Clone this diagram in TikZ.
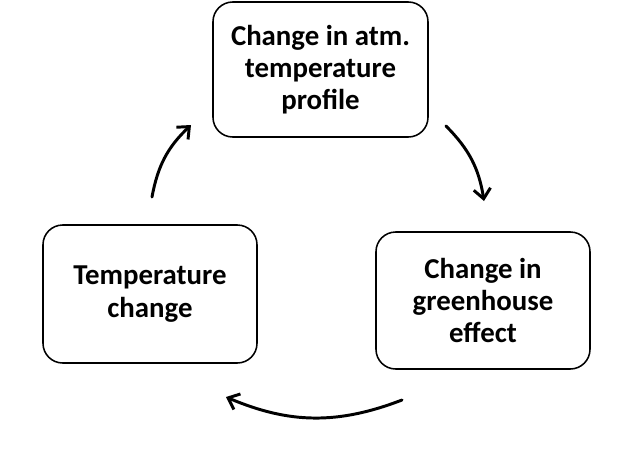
\documentclass[tikz,border=0pt]{standalone}
\usepackage{fontspec}
\setmainfont{Carlito}
\usetikzlibrary{arrows.meta,positioning}

\begin{document}
\begin{tikzpicture}[
  x=0.025cm,y=-0.025cm,
  line cap=round,line join=round,
  stage/.style={draw,rounded corners=14pt,line width=1.1pt,align=center,
    font=\bfseries\fontsize{20.5}{23}\selectfont,inner sep=0pt},
  cycle/.style={line width=2.1pt,-{Straight Barb[length=7pt,width=12pt,line width=2.1pt]}},
  >=Latex
]
  \useasboundingbox (0,0) rectangle (639,463);

  % Boxes
  \node[stage,minimum width=215*0.025cm,minimum height=135*0.025cm] (atm) at (320.5,69.5)
    {Change in atm.\\temperature\\profile};
  \node[stage,minimum width=214*0.025cm,minimum height=137*0.025cm] (ghe) at (483,300.5)
    {Change in\\greenhouse\\effect};
  \node[stage,minimum width=214*0.025cm,minimum height=138*0.025cm] (temp) at (150,294)
    {Temperature\\change};

  % Arrow ends
  \coordinate (a1) at (446,126);
  \coordinate (a2) at (484,201);
  \coordinate (b1) at (402,400);
  \coordinate (b2) at (226,397);
  \coordinate (c1) at (152,197);
  \coordinate (c2) at (191,125);

  % Cycle arrows
  \draw[cycle] (a1) to[bend left=18] (a2);
  \draw[cycle] (b1) to[bend left=22] (b2);
  \draw[cycle] (c1) to[bend left=18] (c2);
\end{tikzpicture}
\end{document}
